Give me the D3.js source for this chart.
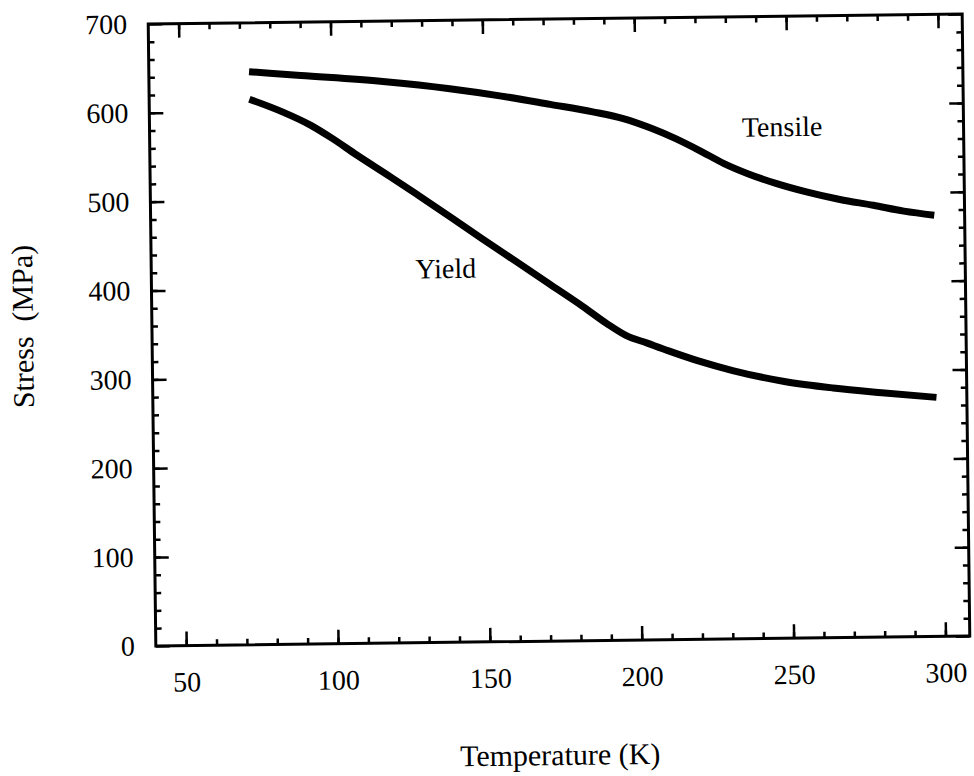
<!DOCTYPE html>
<html>
<head>
<meta charset="utf-8">
<script src="https://cdn.jsdelivr.net/npm/d3@7.9.0/dist/d3.min.js"></script>
<style>
  html, body { margin: 0; padding: 0; background: #fff; }
  svg { display: block; }
  text { font-family: "Liberation Serif", "Times New Roman", serif; fill: #000; }
</style>
</head>
<body>
<svg id="chart" width="974" height="776"></svg>
<script>
// Values
const tensileTemp   = [73, 90, 117, 139, 156, 172, 186, 196, 205, 213, 221, 229, 237, 246, 256, 267, 278, 288, 298];
const tensileStress = [645, 640, 632, 623, 614, 604, 595, 587, 576, 564, 550, 535, 523, 512, 502, 493, 486, 479, 474];

const yieldTemp   = [73, 84, 93, 100, 108, 119, 128, 139, 149, 160, 171, 182, 190, 196, 203, 210, 220, 231, 248, 264, 280, 298];
const yieldStress = [614, 599, 584, 569, 550, 525, 504, 478, 454, 428, 402, 376, 356, 343, 334, 325, 313, 302, 289, 281, 275, 269];

const xMajorTicks = [50, 100, 150, 200, 250, 300];
const yMajorTicks = [0, 100, 200, 300, 400, 500, 600, 700];

// curve labels, anchored in data units
const curveLabels = [
  { text: 'Yield', temp: 127, stress: 410 },
  { text: 'Tensile', temp: 235, stress: 565 }
];

const margin = { left: 152, top: 19 };
const width = 814;
const height = 622;

const svg = d3.select('#chart');

// the scan is tilted a little, so the whole figure is turned with it
const g = svg.append('g')
  .attr('transform', `rotate(-0.7, ${margin.left + width / 2}, ${margin.top + height / 2})`)
  .append('g')
  .attr('transform', `translate(${margin.left}, ${margin.top})`);

const x = d3.scaleLinear().domain([40, 308]).range([0, width]);
const y = d3.scaleLinear().domain([0, 700]).range([height, 0]);

const xMinor = d3.range(50, 301, 10);
const yMinor = d3.range(20, 700, 20);

function styleAxis(sel) {
  sel.select('.domain').remove();
  sel.selectAll('.tick line').attr('stroke', '#000').attr('stroke-width', 2.5);
  sel.selectAll('.tick text')
    .style('font-family', '"Liberation Serif", "Times New Roman", serif')
    .style('font-size', '28px')
    .attr('fill', '#000');
}

// bottom
g.append('g').attr('transform', `translate(0, ${height})`)
  .call(d3.axisBottom(x).tickValues(xMinor).tickSize(-6).tickFormat(''))
  .call(styleAxis);
g.append('g').attr('transform', `translate(0, ${height})`)
  .call(d3.axisBottom(x).tickValues(xMajorTicks).tickSize(-14).tickPadding(26).tickFormat(d3.format('d')))
  .call(styleAxis);

// top
g.append('g')
  .call(d3.axisTop(x).tickValues(xMinor).tickSize(-6).tickFormat(''))
  .call(styleAxis);
g.append('g')
  .call(d3.axisTop(x).tickValues(xMajorTicks).tickSize(-14).tickFormat(''))
  .call(styleAxis);

// left
g.append('g')
  .call(d3.axisLeft(y).tickValues(yMinor).tickSize(-6).tickFormat(''))
  .call(styleAxis);
g.append('g')
  .call(d3.axisLeft(y).tickValues(yMajorTicks).tickSize(-14).tickPadding(21).tickFormat(d3.format('d')))
  .call(styleAxis);

// right
g.append('g').attr('transform', `translate(${width}, 0)`)
  .call(d3.axisRight(y).tickValues(yMinor).tickSize(-6).tickFormat(''))
  .call(styleAxis);
g.append('g').attr('transform', `translate(${width}, 0)`)
  .call(d3.axisRight(y).tickValues(yMajorTicks).tickSize(-14).tickFormat(''))
  .call(styleAxis);

// frame
g.append('rect')
  .attr('width', width)
  .attr('height', height)
  .attr('fill', 'none')
  .attr('stroke', '#000')
  .attr('stroke-width', 3);

// curves
const line = d3.line()
  .x(d => x(d[0]))
  .y(d => y(d[1]))
  .curve(d3.curveMonotoneX);

const series = [
  d3.zip(tensileTemp, tensileStress),
  d3.zip(yieldTemp, yieldStress)
];

g.selectAll('path.curve')
  .data(series)
  .join('path')
  .attr('class', 'curve')
  .attr('d', line)
  .attr('fill', 'none')
  .attr('stroke', '#000')
  .attr('stroke-width', 7);

g.selectAll('text.curve-label')
  .data(curveLabels)
  .join('text')
  .attr('class', 'curve-label')
  .attr('x', d => x(d.temp))
  .attr('y', d => y(d.stress))
  .style('font-size', '28px')
  .text(d => d.text);

// axis titles
g.append('text')
  .attr('x', width / 2 - 4)
  .attr('y', 765 - margin.top)
  .attr('text-anchor', 'middle')
  .style('font-size', '30px')
  .text('Temperature (K)');

g.append('text')
  .attr('transform', `translate(${33 - margin.left}, ${320 - margin.top}) rotate(-90)`)
  .attr('text-anchor', 'middle')
  .style('font-size', '30px')
  .style('white-space', 'pre')
  .text('Stress  (MPa)');
</script>
</body>
</html>
